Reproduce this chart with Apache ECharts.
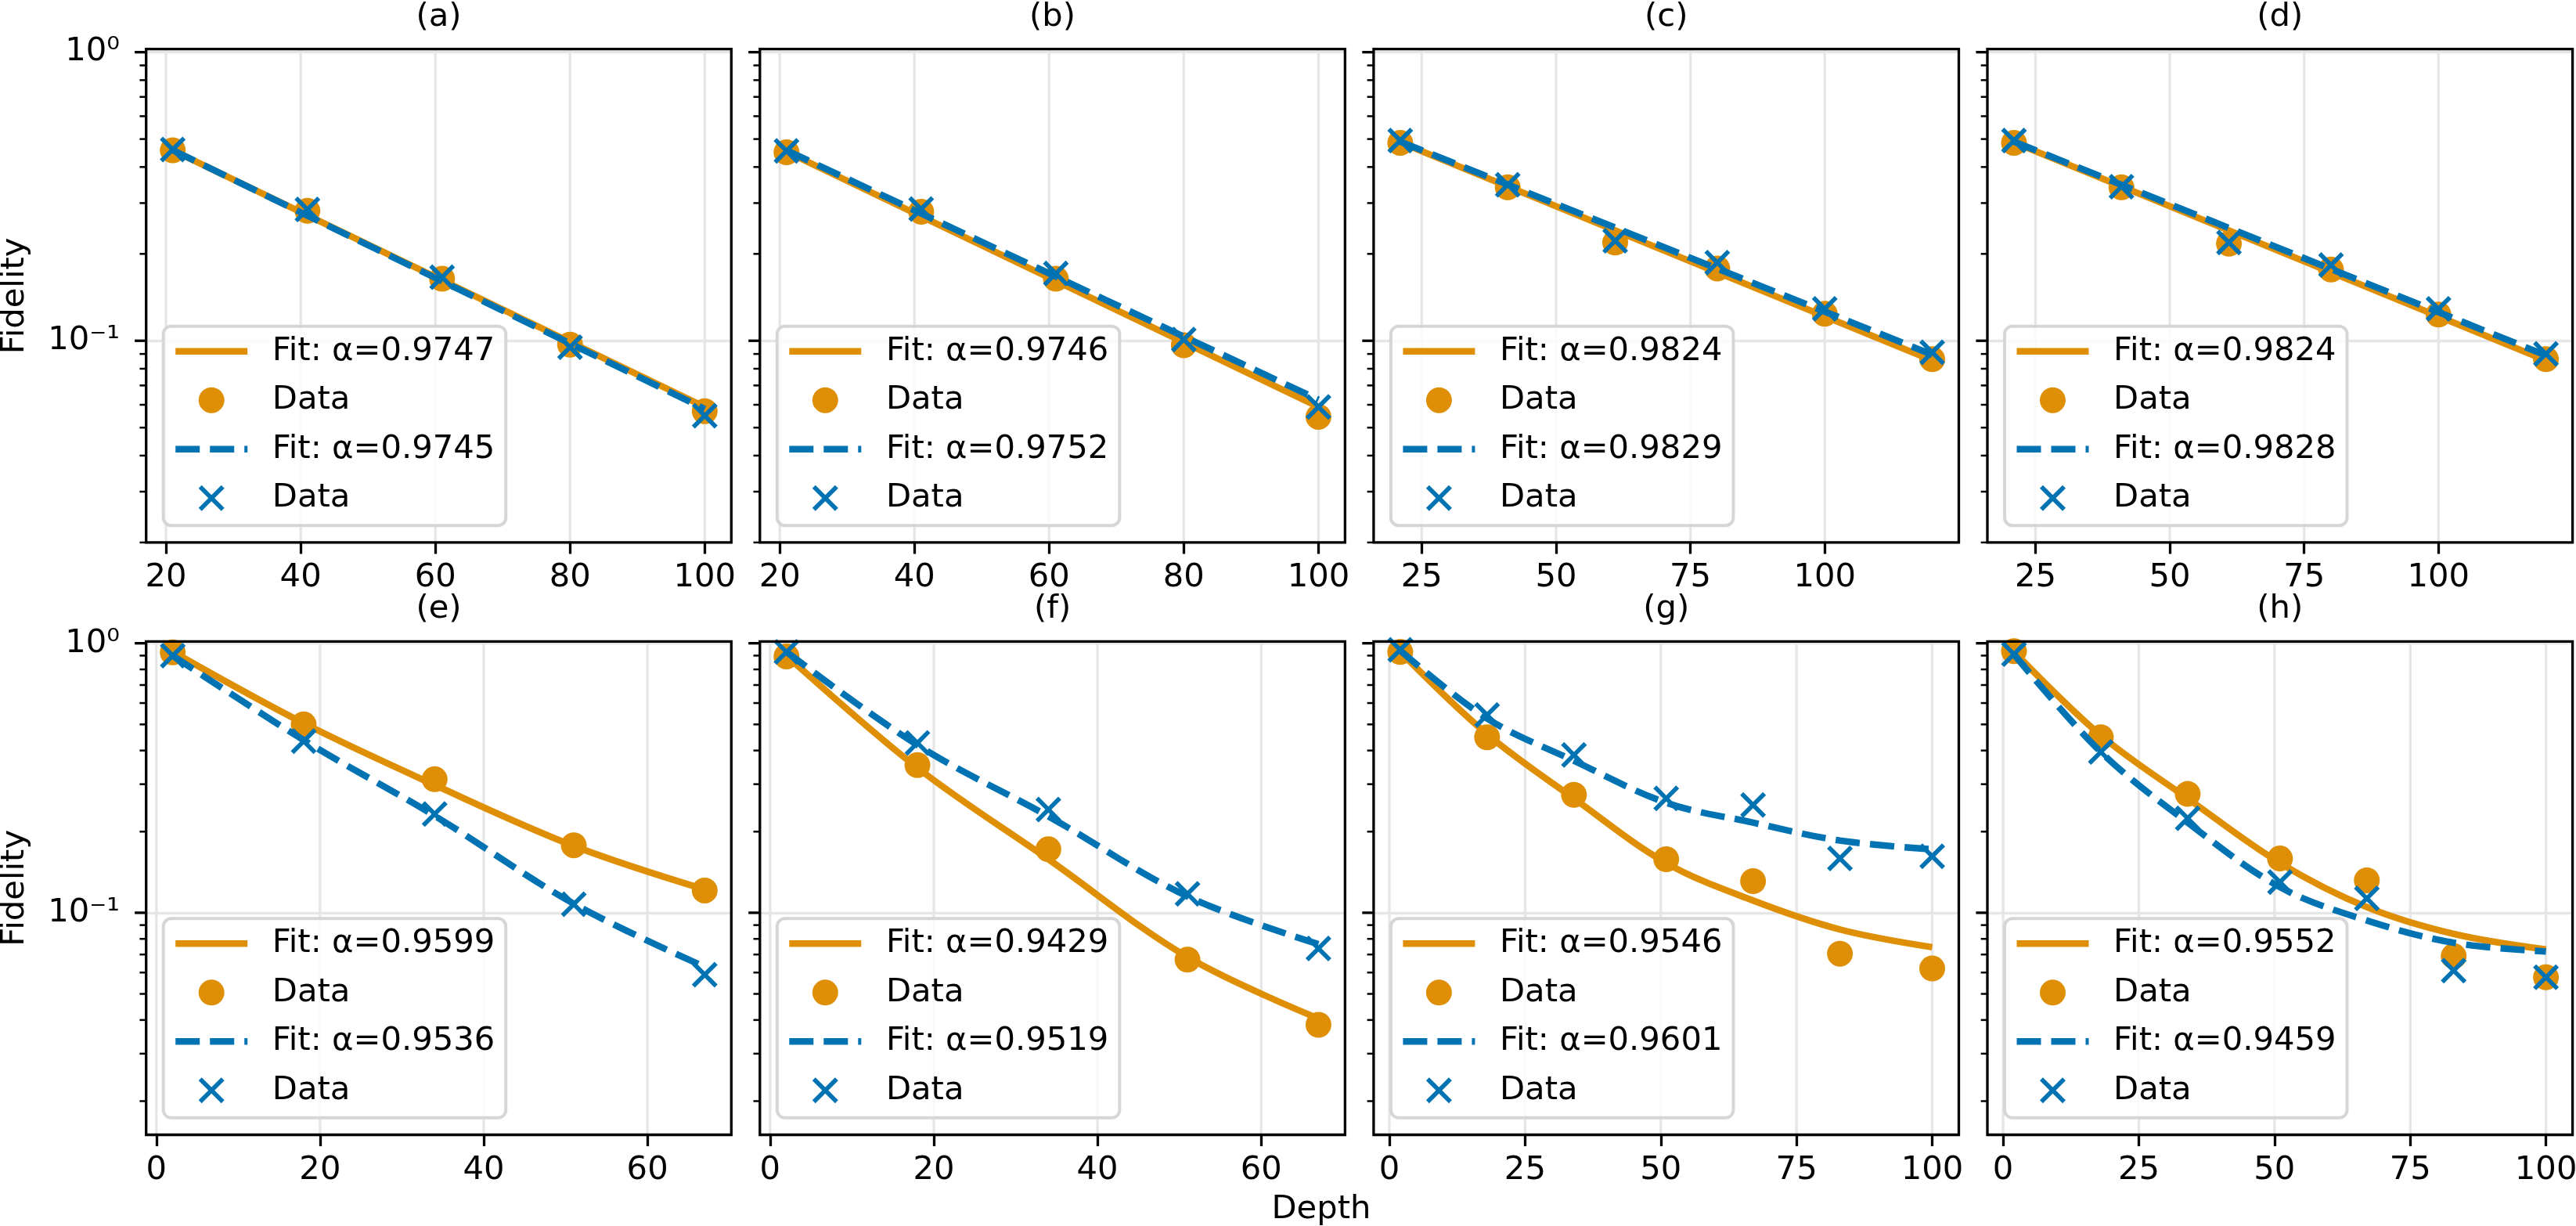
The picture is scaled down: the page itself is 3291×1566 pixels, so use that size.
<!DOCTYPE html>
<html>
<head>
<meta charset="utf-8">
<title>Fidelity vs depth</title>
<script src="https://cdn.jsdelivr.net/npm/echarts@6/dist/echarts.min.js"></script>
<style>
  html, body { margin: 0; padding: 0; background: #fff; }
  #chart { width: 3291px; height: 1566px; }
</style>
</head>
<body>
<div id="chart"></div>
<script>
// ---- data ----
// depths
const depthAB = [21, 41, 61, 80, 100];
const depthCD = [21, 41, 61, 80, 100, 120];
const depthEF = [2, 18, 34, 51, 67];
const depthGH = [2, 18, 34, 51, 67, 83, 100];
const fitSpanAB = [21, 100];
const fitSpanCD = [21, 120];

// (a)
const aCircle = [0.457, 0.282, 0.164, 0.097, 0.057];
const aCross = [0.460, 0.285, 0.166, 0.095, 0.055];
const aFitOrange = [0.457, 0.059];
const aFitBlue = [0.458, 0.058];
// (b)
const bCircle = [0.450, 0.280, 0.164, 0.0965, 0.0545];
const bCross = [0.455, 0.286, 0.171, 0.101, 0.059];
const bFitOrange = [0.452, 0.059];
const bFitBlue = [0.457, 0.0625];
// (c)
const cCircle = [0.485, 0.340, 0.219, 0.178, 0.124, 0.0863];
const cCross = [0.494, 0.347, 0.222, 0.1866, 0.129, 0.0912];
const cFitOrange = [0.487, 0.0855];
const cFitBlue = [0.490, 0.0895];
// (d)
const dCircle = [0.485, 0.340, 0.217, 0.1765, 0.1233, 0.0863];
const dCross = [0.494, 0.342, 0.219, 0.183, 0.129, 0.090];
const dFitOrange = [0.487, 0.0855];
const dFitBlue = [0.490, 0.089];
// (e)
const eCircle = [0.925, 0.500, 0.313, 0.178, 0.121];
const eCross = [0.900, 0.433, 0.2325, 0.1076, 0.0589];
const eFitOrange = [0.93, 0.505, 0.298, 0.177, 0.122];
const eFitBlue = [0.90, 0.437, 0.229, 0.108, 0.063];
// (f)
const fCircle = [0.894, 0.353, 0.172, 0.067, 0.0384];
const fCross = [0.928, 0.427, 0.2415, 0.1175, 0.0737];
const fFitOrange = [0.90, 0.345, 0.158, 0.0685, 0.0405];
const fFitBlue = [0.93, 0.419, 0.228, 0.115, 0.0765];
// (g)
const gCircle = [0.928, 0.448, 0.274, 0.158, 0.131, 0.0705, 0.0621];
const gCross = [0.946, 0.542, 0.385, 0.2656, 0.251, 0.159, 0.162];
const gFitOrange = [0.93, 0.46, 0.2655, 0.153, 0.111, 0.0867, 0.0745];
const gFitBlue = [0.94, 0.526, 0.3665, 0.256, 0.216, 0.1853, 0.172];
// (h)
const hCircle = [0.935, 0.448, 0.276, 0.159, 0.132, 0.069, 0.0576];
const hCross = [0.911, 0.395, 0.224, 0.130, 0.113, 0.061, 0.0576];
const hFitOrange = [0.93, 0.455, 0.2656, 0.153, 0.105, 0.0835, 0.0731];
const hFitBlue = [0.91, 0.395, 0.216, 0.1245, 0.0936, 0.0774, 0.0718];

// fitted alphas, panels a..h
const alphaOrange = [0.9747, 0.9746, 0.9824, 0.9824, 0.9599, 0.9429, 0.9546, 0.9552];
const alphaBlue = [0.9745, 0.9752, 0.9829, 0.9828, 0.9536, 0.9519, 0.9601, 0.9459];

// axes
const xTicksAB = [20, 40, 60, 80, 100];
const xTicksCD = [25, 50, 75, 100];
const xTicksEF = [0, 20, 40, 60];
const xTicksGH = [0, 25, 50, 75, 100];
const xRangeAB = [17.05, 103.95];
const xRangeCD = [16.05, 124.95];
const xRangeEF = [-1.25, 70.25];
const xRangeGH = [-2.9, 104.9];
const yRangeTop = [0.02, 1.025];
const yRangeBottom = [0.015, 1.016];
const yMajorTicks = [0.1, 1];
const yMinorTicks = [0.02, 0.03, 0.04, 0.05, 0.06, 0.07, 0.08, 0.09, 0.2, 0.3, 0.4, 0.5, 0.6, 0.7, 0.8, 0.9];

// ---- look ----
const FONT = 'DejaVu Sans';
const FS = 41.7;
const ORANGE = '#DE8F05';
const BLUE = '#0173B2';
const GRID_GRAY = '#e6e6e6';
const LW = 8.4;
const DASH = [31, 13];
const COL_LEFT = [186.7, 970.8, 1754.9, 2539];
const ROW_TOP = [62.7, 819.3];
const PANEL_W = 747.6;
const PANEL_H = 630.2;
const CROSS = 'path://M1.2,0 L5,3.8 L8.8,0 L10,1.2 L6.2,5 L10,8.8 L8.8,10 L5,6.2 L1.2,10 L0,8.8 L3.8,5 L0,1.2 Z';

const panels = [
  { tag: '(a)', row: 0, col: 0, depth: depthAB, fitDepth: fitSpanAB, circle: aCircle, cross: aCross, fitO: aFitOrange, fitB: aFitBlue, xr: xRangeAB, xt: xTicksAB },
  { tag: '(b)', row: 0, col: 1, depth: depthAB, fitDepth: fitSpanAB, circle: bCircle, cross: bCross, fitO: bFitOrange, fitB: bFitBlue, xr: xRangeAB, xt: xTicksAB },
  { tag: '(c)', row: 0, col: 2, depth: depthCD, fitDepth: fitSpanCD, circle: cCircle, cross: cCross, fitO: cFitOrange, fitB: cFitBlue, xr: xRangeCD, xt: xTicksCD },
  { tag: '(d)', row: 0, col: 3, depth: depthCD, fitDepth: fitSpanCD, circle: dCircle, cross: dCross, fitO: dFitOrange, fitB: dFitBlue, xr: xRangeCD, xt: xTicksCD },
  { tag: '(e)', row: 1, col: 0, depth: depthEF, fitDepth: depthEF, circle: eCircle, cross: eCross, fitO: eFitOrange, fitB: eFitBlue, xr: xRangeEF, xt: xTicksEF },
  { tag: '(f)', row: 1, col: 1, depth: depthEF, fitDepth: depthEF, circle: fCircle, cross: fCross, fitO: fFitOrange, fitB: fFitBlue, xr: xRangeEF, xt: xTicksEF },
  { tag: '(g)', row: 1, col: 2, depth: depthGH, fitDepth: depthGH, circle: gCircle, cross: gCross, fitO: gFitOrange, fitB: gFitBlue, xr: xRangeGH, xt: xTicksGH },
  { tag: '(h)', row: 1, col: 3, depth: depthGH, fitDepth: depthGH, circle: hCircle, cross: hCross, fitO: hFitOrange, fitB: hFitBlue, xr: xRangeGH, xt: xTicksGH }
];

const SUP = { '0': '\u2070', '1': '\u00B9', '2': '\u00B2', '3': '\u00B3', '-': '\u207B' };
function powLabel(v) {
  const l = Math.log10(v);
  const e = Math.round(l);
  if (Math.abs(l - e) > 1e-6) return '';
  return '10' + String(e).split('').map(c => SUP[c]).join('');
}

function pairs(xs, ys) {
  return xs.map((x, k) => [x, ys[k]]);
}

// light vertical grid lines at the x ticks
function renderXGrid(params, api) {
  const x = api.coord([api.value(0), api.value(1)])[0];
  const cs = params.coordSys;
  return {
    type: 'line',
    shape: { x1: x, y1: cs.y, x2: x, y2: cs.y + cs.height },
    style: { stroke: GRID_GRAY, lineWidth: 3.3 }
  };
}

// log-axis ticks, major and minor, drawn on the left spine
function renderYTicks(params, api) {
  const y = api.coord([api.value(0), api.value(1)])[1];
  const cs = params.coordSys;
  const major = api.value(2) === 1;
  const len = major ? 14.6 : 8.3;
  return {
    type: 'line',
    shape: { x1: cs.x - len, y1: y, x2: cs.x, y2: y },
    style: { stroke: '#000', lineWidth: major ? 3.3 : 2.5 }
  };
}

const grid = [], xAxis = [], yAxis = [], series = [], legend = [], title = [];

panels.forEach((p, i) => {
  const yr = p.row === 0 ? yRangeTop : yRangeBottom;
  const left = COL_LEFT[p.col];
  const top = ROW_TOP[p.row];

  grid.push({
    left: left, top: top, width: PANEL_W, height: PANEL_H,
    show: true, borderColor: '#000', borderWidth: 3.3,
    backgroundColor: 'transparent', z: 10,
    containLabel: false, outerBoundsMode: 'none'
  });

  xAxis.push({
    gridIndex: i, type: 'value', min: p.xr[0], max: p.xr[1],
    axisLine: { show: false },
    axisTick: { show: true, customValues: p.xt, length: 14.6, lineStyle: { color: '#000', width: 3.3 } },
    axisLabel: { customValues: p.xt, margin: 24.5, color: '#000', fontFamily: FONT, fontSize: FS, lineHeight: 42 },
    splitLine: { show: false }
  });

  yAxis.push({
    gridIndex: i, type: 'log', logBase: 10, min: yr[0], max: yr[1],
    axisLine: { show: false },
    axisTick: { show: false },
    axisLabel: {
      show: p.col === 0, formatter: powLabel, margin: 33.7,
      showMinLabel: true, showMaxLabel: true,
      color: '#000', fontFamily: FONT, fontSize: FS
    },
    splitLine: { show: true, lineStyle: { color: GRID_GRAY, width: 3.3 } }
  });

  const nFitO = p.tag + '|Fit: \u03B1=' + alphaOrange[i].toFixed(4) + '|o';
  const nDataO = p.tag + '|Data|o';
  const nFitB = p.tag + '|Fit: \u03B1=' + alphaBlue[i].toFixed(4) + '|b';
  const nDataB = p.tag + '|Data|b';
  const smooth = p.row === 1 ? 0.35 : false;

  series.push(
    {
      type: 'custom', xAxisIndex: i, yAxisIndex: i, silent: true, z: 1, clip: false,
      renderItem: renderXGrid, data: p.xt.map(t => [t, 1])
    },
    {
      type: 'custom', xAxisIndex: i, yAxisIndex: i, silent: true, z: 11, clip: false,
      renderItem: renderYTicks,
      data: yMinorTicks.map(v => [p.xr[0], v, 0]).concat(yMajorTicks.map(v => [p.xr[0], v, 1]))
    },
    {
      name: nFitO, type: 'line', xAxisIndex: i, yAxisIndex: i, z: 3,
      data: pairs(p.fitDepth, p.fitO), symbol: 'none', showSymbol: false, smooth: smooth,
      lineStyle: { color: ORANGE, width: LW, type: 'solid' }, itemStyle: { color: ORANGE }
    },
    {
      name: nDataO, type: 'scatter', xAxisIndex: i, yAxisIndex: i, z: 4,
      data: pairs(p.depth, p.circle), symbol: 'circle', symbolSize: 33,
      itemStyle: { color: ORANGE, opacity: 1 }
    },
    {
      name: nFitB, type: 'line', xAxisIndex: i, yAxisIndex: i, z: 5,
      data: pairs(p.fitDepth, p.fitB), symbol: 'none', showSymbol: false, smooth: smooth,
      lineStyle: { color: BLUE, width: LW, type: DASH }, itemStyle: { color: BLUE }
    },
    {
      name: nDataB, type: 'scatter', xAxisIndex: i, yAxisIndex: i, z: 6,
      data: pairs(p.depth, p.cross), symbol: CROSS, symbolSize: 33, symbolKeepAspect: true,
      itemStyle: { color: BLUE, opacity: 1 }
    }
  );

  legend.push({
    orient: 'vertical', left: left + 22, top: top + 354,
    data: [
      { name: nFitO, itemStyle: { opacity: 0 }, lineStyle: { width: LW, type: 'solid', color: ORANGE } },
      { name: nDataO },
      { name: nFitB, itemStyle: { opacity: 0 }, lineStyle: { width: LW, type: DASH, color: BLUE } },
      { name: nDataB }
    ],
    itemWidth: 92, itemHeight: 33, itemGap: 14.5,
    padding: [8, 14, 11, 11.3],
    backgroundColor: 'rgba(255,255,255,0.8)',
    borderColor: '#d6d6d6', borderWidth: 4, borderRadius: 10,
    selectedMode: false, z: 8,
    formatter: name => '{gap| }' + name.split('|')[1],
    textStyle: {
      fontFamily: FONT, fontSize: FS, color: '#000', lineHeight: 48,
      rich: { gap: { width: 26.6 } }
    }
  });

  title.push({
    text: p.tag, left: left + PANEL_W / 2, top: p.row === 0 ? 1 : 757.5,
    textAlign: 'center', padding: 0,
    textStyle: { fontFamily: FONT, fontSize: FS, fontWeight: 'normal', color: '#000', lineHeight: 42 }
  });
});

const chart = echarts.init(document.getElementById('chart'), null, { renderer: 'canvas' });
chart.setOption({
  animation: false,
  backgroundColor: '#fff',
  textStyle: { fontFamily: FONT },
  title: title,
  grid: grid,
  xAxis: xAxis,
  yAxis: yAxis,
  legend: legend,
  series: series,
  graphic: [
    {
      type: 'text', x: 19.5, y: 377.9, rotation: Math.PI / 2,
      style: { text: 'Fidelity', font: FS + 'px "' + FONT + '"', fill: '#000',
        align: 'center', verticalAlign: 'middle', textAlign: 'center', textVerticalAlign: 'middle' }
    },
    {
      type: 'text', x: 19.5, y: 1134.3, rotation: Math.PI / 2,
      style: { text: 'Fidelity', font: FS + 'px "' + FONT + '"', fill: '#000',
        align: 'center', verticalAlign: 'middle', textAlign: 'center', textVerticalAlign: 'middle' }
    },
    {
      type: 'text', x: 1688, y: 1545,
      style: { text: 'Depth', font: FS + 'px "' + FONT + '"', fill: '#000',
        align: 'center', verticalAlign: 'middle', textAlign: 'center', textVerticalAlign: 'middle' }
    }
  ]
});
window.onresize = () => chart.resize();
</script>
</body>
</html>
